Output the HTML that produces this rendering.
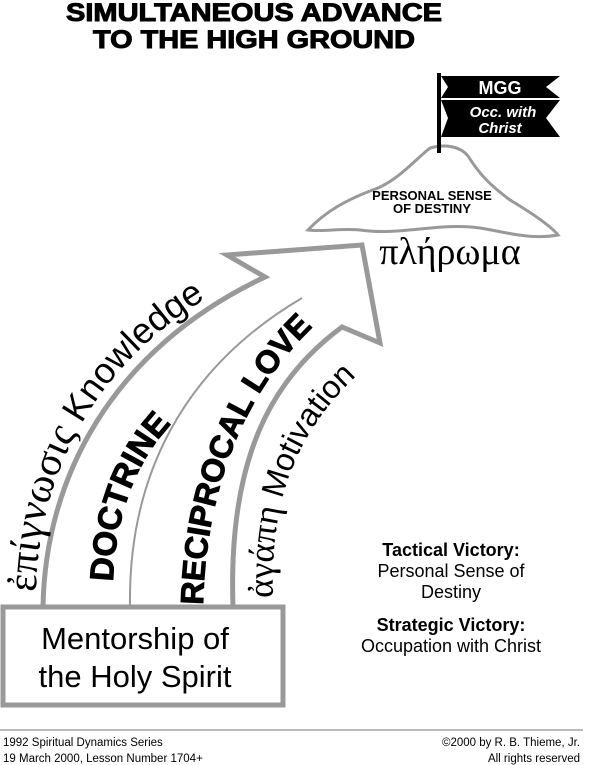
<!DOCTYPE html>
<html><head><meta charset="utf-8"><style>
html,body{margin:0;padding:0;background:#fff;}
svg{display:block;font-family:"Liberation Sans",sans-serif;}
</style></head><body>
<svg width="600" height="765" viewBox="0 0 600 765" xmlns="http://www.w3.org/2000/svg">
<text x="254" y="21" text-anchor="middle" font-weight="bold" font-size="25" textLength="376" lengthAdjust="spacingAndGlyphs" stroke="#000" stroke-width="1">SIMULTANEOUS ADVANCE</text>
<text x="254" y="48" text-anchor="middle" font-weight="bold" font-size="25" textLength="322" lengthAdjust="spacingAndGlyphs" stroke="#000" stroke-width="1">TO THE HIGH GROUND</text>

<!-- mountain -->
<path d="M308,230 C325,212 345,200 378,188 C400,178 415,160 430,148 C445,144 460,146 468,156 C480,175 490,185 510,200 C530,212 550,225 558,235 C530,240 505,232 480,228 C440,222 400,236 360,230 C340,228 325,232 308,230 Z" fill="#fff" stroke="#999" stroke-width="3"/>
<text x="432" y="200" text-anchor="middle" font-weight="bold" font-size="13">PERSONAL SENSE</text>
<text x="432" y="213" text-anchor="middle" font-weight="bold" font-size="13">OF DESTINY</text>
<!-- flag -->
<rect x="437" y="73" width="4" height="80" fill="#000"/>
<path d="M441,76 L560,76 L546,87 L560,98 L441,98 L448,87 Z" fill="#000"/>
<path d="M441,100 L560,100 L546,118 L560,137 L441,137 L448,118 Z" fill="#000"/>
<text x="500" y="94" text-anchor="middle" font-weight="bold" font-size="18" fill="#fff">MGG</text>
<text x="503" y="117" text-anchor="middle" font-weight="bold" font-style="italic" font-size="15" fill="#fff">Occ. with</text>
<text x="500" y="133" text-anchor="middle" font-weight="bold" font-style="italic" font-size="15" fill="#fff">Christ</text>
<text x="450" y="264" text-anchor="middle" font-family="Liberation Serif,DejaVu Serif,serif" font-size="38">πλήρωμα</text>

<!-- arrow -->
<path d="M43,607 C45,480 110,350 265,277 L227,255 L362,245 L380,343 L342,327 C270,380 228,460 233,607" fill="#fff" stroke="#999" stroke-width="5" stroke-linejoin="miter"/>
<path d="M130,607 C128,480 180,370 302,298" fill="none" stroke="#999" stroke-width="2"/>
<rect x="3" y="607" width="280" height="98" fill="#fff" stroke="#999" stroke-width="5"/>
<text x="135" y="649" text-anchor="middle" font-size="31">Mentorship of</text>
<text x="135" y="687" text-anchor="middle" font-size="31">the Holy Spirit</text>

<defs>
<path id="p1" d="M36,592 C38,470 100,345 250,275"/>
<path id="p2" d="M113,582 C116,500 145,440 198,400"/>
<path id="p3" d="M203,605 C206,480 250,370 345,300"/>
<path id="p4" d="M273,598 C270,500 295,425 375,360"/>
</defs>
<text font-size="36"><textPath href="#p1"><tspan font-family="Liberation Serif,DejaVu Serif,serif" font-size="42">ἐπίγνωσις</tspan> Knowledge</textPath></text>
<text font-size="33" font-weight="bold" stroke="#000" stroke-width="1"><textPath href="#p2">DOCTRINE</textPath></text>
<text font-size="32" font-weight="bold" stroke="#000" stroke-width="1"><textPath href="#p3">RECIPROCAL LOVE</textPath></text>
<text font-size="32"><textPath href="#p4"><tspan font-family="Liberation Serif,DejaVu Serif,serif" font-size="36">ἀγάπη</tspan> Motivation</textPath></text>

<g text-anchor="middle" font-size="18">
<text x="451" y="556" font-weight="bold">Tactical Victory:</text>
<text x="451" y="577">Personal Sense of</text>
<text x="451" y="598">Destiny</text>
<text x="451" y="631" font-weight="bold">Strategic Victory:</text>
<text x="451" y="652">Occupation with Christ</text>
</g>

<line x1="0" y1="730" x2="583" y2="730" stroke="#777" stroke-width="1"/>
<g font-size="11.5">
<text x="3" y="746">1992 Spiritual Dynamics Series</text>
<text x="3" y="762">19 March 2000, Lesson Number 1704+</text>
<text x="580" y="746" text-anchor="end">©2000 by R. B. Thieme, Jr.</text>
<text x="580" y="762" text-anchor="end">All rights reserved</text>
</g>
</svg>
</body></html>
